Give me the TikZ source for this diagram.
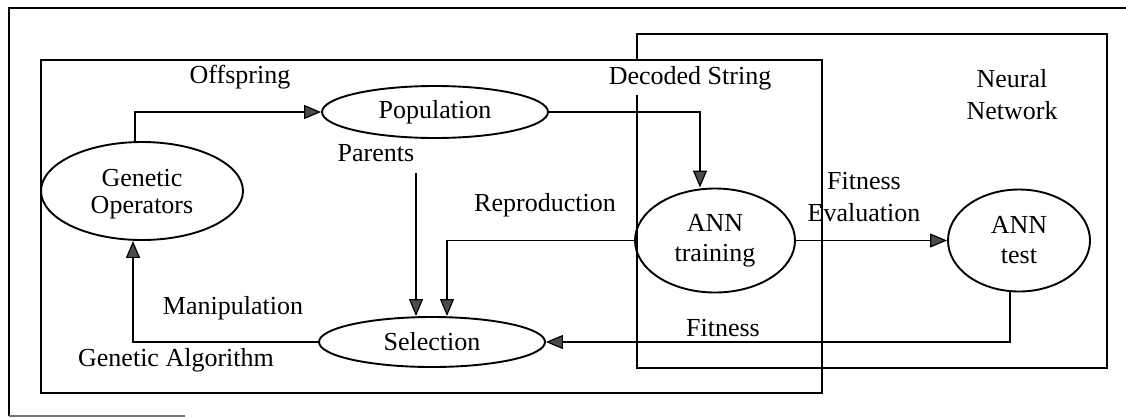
\documentclass[tikz,border=0pt]{standalone}
\usepackage{fontspec}
\setmainfont{Liberation Serif}
\usetikzlibrary{shapes.geometric,arrows.meta}
\begin{document}
\begin{tikzpicture}[x=1pt,y=-1pt,
  line width=1.9pt,
  every node/.style={font=\fontsize{26}{32}\selectfont},
  ell/.style={draw,ellipse,inner sep=0pt,align=center},
  lbl/.style={inner sep=1pt,align=center},
  arr/.style={-{Triangle[length=17pt,width=14pt,fill=black!70,line width=1.2pt]}},
  frame/.style={draw,line width=1.8pt}]
\useasboundingbox (0,0) rectangle (1126,418);

% outer frame
\draw[frame] (1126,8) -- (9,8) -- (9,416);
\draw[frame,black!55] (9,416) -- (185,416);

% neural network block
\draw[frame] (637,34) rectangle (1107,368);
\node[lbl,fill=white,minimum height=34pt] (dec) at (690,78) {Decoded String};

% genetic algorithm block
\draw[frame] (41,60) rectangle (822,393);

% process nodes
\node[ell,minimum width=202pt,minimum height=98pt,font=\fontsize{26}{27}\selectfont] (go) at (142,191) {};
\node[align=center,font=\fontsize{26}{27}\selectfont] (golbl) at (142,194) {Genetic\\Operators};
\node[ell,minimum width=226pt,minimum height=52pt] (pop) at (435,112) {Population};
\node[ell,minimum width=160pt,minimum height=104pt,font=\fontsize{26}{30}\selectfont] (annt) at (715,240.5) {ANN\\training};
\node[ell,minimum width=142pt,minimum height=102pt,font=\fontsize{26}{30}\selectfont] (anntest) at (1019,240.5) {ANN\\test};
\node[ell,minimum width=226pt,minimum height=50pt] (sel) at (432,342) {Selection};

% labels
\node[lbl] (off) at (240,77) {Offspring};
\node[lbl] (nn) at (1012,95) {Neural\\Network};
\node[lbl] (par) at (376,153) {Parents};
\node[lbl] (rep) at (545,205) {Reproduction};
\node[lbl] (fe) at (864,197) {Fitness\\Evaluation};
\node[lbl] (man) at (233,308) {Manipulation};
\node[lbl] (gal) at (176,360) {Genetic Algorithm};
\node[lbl] (fit) at (723,328) {Fitness};

% connectors
\coordinate (pstart) at (416,173);
\draw[arr] ([xshift=-7pt]go.north) |- (pop.west);
\draw[arr] (pop.east) -| ([xshift=-15pt]annt.north);
\draw[arr] (pstart) -- (pstart |- sel.north);
\draw[arr] (annt.west) -| ([xshift=15pt]sel.north);
\draw[arr] (annt.east) -- (anntest.west);
\draw[arr] ([xshift=-9pt]anntest.south) |- (sel.east);
\draw[arr] (sel.west) -| ([xshift=-9pt]go.south);
\end{tikzpicture}
\end{document}
